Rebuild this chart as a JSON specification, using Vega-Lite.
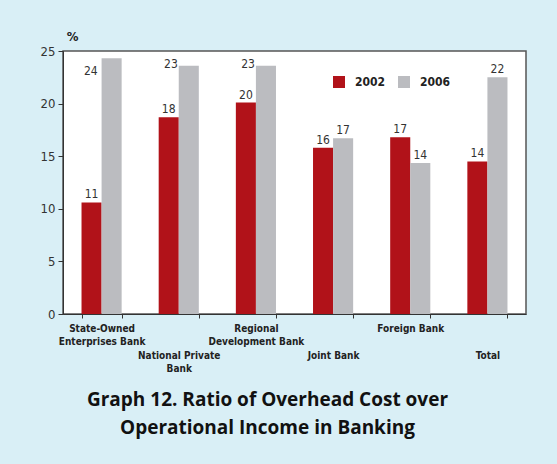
{
  "$schema": "https://vega.github.io/schema/vega-lite/v6.json",
  "width": 463,
  "height": 263,
  "autosize": {"type": "none"},
  "padding": {"left": 63, "top": 51, "right": 31, "bottom": 150},
  "background": "#d9eff6",
  "title": {
    "text": ["Graph 12. Ratio of Overhead Cost over", "Operational Income in Banking"],
    "orient": "bottom",
    "anchor": "middle",
    "font": "Open Sans",
    "fontSize": 19,
    "fontWeight": "bold",
    "color": "#111111",
    "lineHeight": 28,
    "offset": 18,
    "dx": -27
  },
  "data": {
    "values": [
      {"bank": "State-Owned Enterprises Bank", "year": "2002", "value": 10.6, "label": "11"},
      {"bank": "State-Owned Enterprises Bank", "year": "2006", "value": 24.3, "label": "24"},
      {"bank": "National Private Bank", "year": "2002", "value": 18.7, "label": "18"},
      {"bank": "National Private Bank", "year": "2006", "value": 23.6, "label": "23"},
      {"bank": "Regional Development Bank", "year": "2002", "value": 20.1, "label": "20"},
      {"bank": "Regional Development Bank", "year": "2006", "value": 23.6, "label": "23"},
      {"bank": "Joint Bank", "year": "2002", "value": 15.8, "label": "16"},
      {"bank": "Joint Bank", "year": "2006", "value": 16.7, "label": "17"},
      {"bank": "Foreign Bank", "year": "2002", "value": 16.8, "label": "17"},
      {"bank": "Foreign Bank", "year": "2006", "value": 14.35, "label": "14"},
      {"bank": "Total", "year": "2002", "value": 14.5, "label": "14"},
      {"bank": "Total", "year": "2006", "value": 22.5, "label": "22"}
    ]
  },
  "encoding": {
    "x": {
      "field": "bank",
      "type": "nominal",
      "sort": null,
      "scale": {"paddingInner": 0.48, "paddingOuter": 0.24},
      "axis": {
        "title": null,
        "labelAngle": 0,
        "tickBand": "extent",
        "domainColor": "#333333",
        "tickColor": "#333333",
        "tickSize": 4,
        "labelPadding": {"condition": {"test": "indexof(['National Private Bank','Joint Bank','Total'], datum.value) >= 0", "value": 32}, "value": 5},
        "labelFont": "DejaVu Sans Condensed, Roboto, sans-serif",
        "labelFontSize": 10,
        "labelFontWeight": "bold",
        "labelColor": "#222222",
        "labelLineHeight": 13,
        "labelBaseline": "top",
        "labelOverlap": false,
        "labelBound": false,
        "labelExpr": "datum.value == 'State-Owned Enterprises Bank' ? ['State-Owned','Enterprises Bank'] : datum.value == 'National Private Bank' ? ['National Private','Bank'] : datum.value == 'Regional Development Bank' ? ['Regional','Development Bank'] : datum.value"
      }
    },
    "xOffset": {"field": "year", "type": "nominal", "sort": ["2002", "2006"]},
    "y": {
      "field": "value",
      "type": "quantitative",
      "scale": {"domain": [0, 25], "nice": false},
      "axis": {
        "values": [0, 5, 10, 15, 20, 25],
        "grid": false,
        "title": "%",
        "titleAngle": 0,
        "titleX": 9,
        "titleY": -11,
        "titleAlign": "center",
        "titleBaseline": "alphabetic",
        "titleFont": "DejaVu Sans Condensed, Roboto, sans-serif",
        "titleFontSize": 13,
        "titleFontWeight": "bold",
        "titleColor": "#222222",
        "domainColor": "#333333",
        "tickColor": "#333333",
        "tickSize": 5,
        "labelPadding": 3,
        "labelFont": "DejaVu Sans Condensed, Roboto, sans-serif",
        "labelFontSize": 13,
        "labelColor": "#333333"
      }
    }
  },
  "layer": [
    {
      "mark": {"type": "bar"},
      "encoding": {
        "color": {
          "field": "year",
          "type": "nominal",
          "scale": {"domain": ["2002", "2006"], "range": ["#b11219", "#bbbcc0"]},
          "legend": {
            "title": null,
            "orient": "none",
            "direction": "horizontal",
            "legendX": 270,
            "legendY": 25,
            "symbolType": "square",
            "symbolSize": 144,
            "symbolStrokeWidth": 0,
            "symbolOpacity": 1,
            "labelFont": "DejaVu Sans Condensed, Roboto, sans-serif",
            "labelFontSize": 12,
            "labelFontWeight": "bold",
            "labelColor": "#222222",
            "labelOffset": 10,
            "columnPadding": 12
          }
        }
      }
    },
    {
      "transform": [{"filter": "datum.year == '2002' || indexof(['Joint Bank','Foreign Bank','Total'], datum.bank) >= 0"}],
      "mark": {"type": "text", "baseline": "alphabetic", "dy": -4, "font": "DejaVu Sans Condensed, Roboto, sans-serif", "fontSize": 12, "color": "#333333"},
      "encoding": {"text": {"field": "label"}}
    },
    {
      "transform": [{"filter": "datum.year == '2006' && datum.bank == 'State-Owned Enterprises Bank'"}],
      "mark": {"type": "text", "align": "right", "baseline": "middle", "dx": -14, "dy": 13, "font": "DejaVu Sans Condensed, Roboto, sans-serif", "fontSize": 12, "color": "#333333"},
      "encoding": {"text": {"field": "label"}}
    },
    {
      "transform": [{"filter": "datum.year == '2006' && indexof(['National Private Bank','Regional Development Bank'], datum.bank) >= 0"}],
      "mark": {"type": "text", "align": "right", "baseline": "alphabetic", "dx": -11, "dy": 2, "font": "DejaVu Sans Condensed, Roboto, sans-serif", "fontSize": 12, "color": "#333333"},
      "encoding": {"text": {"field": "label"}}
    }
  ],
  "config": {
    "view": {"fill": "white", "stroke": "#555555", "strokeWidth": 1.5}
  }
}
